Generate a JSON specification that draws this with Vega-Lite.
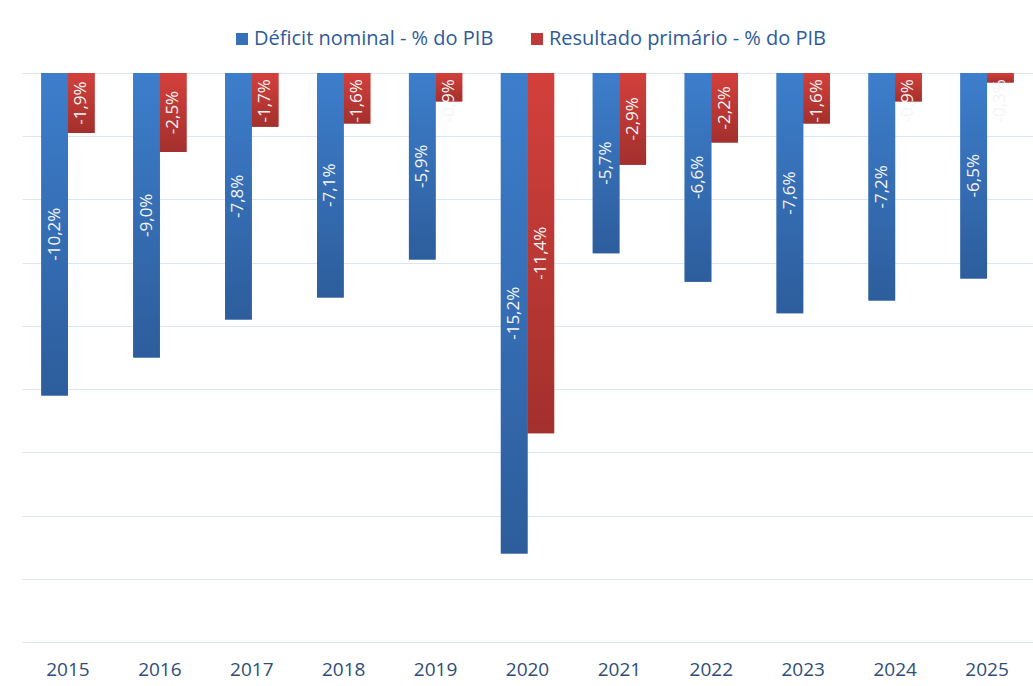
{
  "$schema": "https://vega.github.io/schema/vega-lite/v6.json",
  "width": 1011,
  "height": 569,
  "autosize": {"type": "none"},
  "padding": {"left": 22, "top": 73, "right": 0, "bottom": 44},
  "background": "white",
  "config": {"view": {"stroke": null}, "font": "Open Sans"},
  "data": {
    "values": [
      {"ano": "2015", "serie": "Déficit nominal - % do PIB", "valor": -10.2},
      {"ano": "2015", "serie": "Resultado primário - % do PIB", "valor": -1.9},
      {"ano": "2016", "serie": "Déficit nominal - % do PIB", "valor": -9.0},
      {"ano": "2016", "serie": "Resultado primário - % do PIB", "valor": -2.5},
      {"ano": "2017", "serie": "Déficit nominal - % do PIB", "valor": -7.8},
      {"ano": "2017", "serie": "Resultado primário - % do PIB", "valor": -1.7},
      {"ano": "2018", "serie": "Déficit nominal - % do PIB", "valor": -7.1},
      {"ano": "2018", "serie": "Resultado primário - % do PIB", "valor": -1.6},
      {"ano": "2019", "serie": "Déficit nominal - % do PIB", "valor": -5.9},
      {"ano": "2019", "serie": "Resultado primário - % do PIB", "valor": -0.9},
      {"ano": "2020", "serie": "Déficit nominal - % do PIB", "valor": -15.2},
      {"ano": "2020", "serie": "Resultado primário - % do PIB", "valor": -11.4},
      {"ano": "2021", "serie": "Déficit nominal - % do PIB", "valor": -5.7},
      {"ano": "2021", "serie": "Resultado primário - % do PIB", "valor": -2.9},
      {"ano": "2022", "serie": "Déficit nominal - % do PIB", "valor": -6.6},
      {"ano": "2022", "serie": "Resultado primário - % do PIB", "valor": -2.2},
      {"ano": "2023", "serie": "Déficit nominal - % do PIB", "valor": -7.6},
      {"ano": "2023", "serie": "Resultado primário - % do PIB", "valor": -1.6},
      {"ano": "2024", "serie": "Déficit nominal - % do PIB", "valor": -7.2},
      {"ano": "2024", "serie": "Resultado primário - % do PIB", "valor": -0.9},
      {"ano": "2025", "serie": "Déficit nominal - % do PIB", "valor": -6.5},
      {"ano": "2025", "serie": "Resultado primário - % do PIB", "valor": -0.3}
    ]
  },
  "encoding": {
    "x": {
      "field": "ano",
      "type": "ordinal",
      "scale": {"paddingInner": 0.42, "paddingOuter": 0.21},
      "axis": {
        "title": null,
        "labelAngle": 0,
        "labelFontSize": 19,
        "labelColor": "#2F4D7C",
        "domain": false,
        "ticks": false,
        "grid": false,
        "labelPadding": 18
      }
    },
    "xOffset": {
      "field": "serie",
      "type": "nominal",
      "sort": ["Déficit nominal - % do PIB", "Resultado primário - % do PIB"],
      "scale": {"paddingInner": 0, "paddingOuter": 0}
    },
    "y": {
      "field": "valor",
      "type": "quantitative",
      "scale": {"domain": [-18, 0], "nice": false, "zero": true},
      "axis": {
        "title": null,
        "labels": false,
        "ticks": false,
        "domain": false,
        "grid": true,
        "gridColor": "#DCE6F2",
        "gridWidth": 1.2,
        "values": [0, -2, -4, -6, -8, -10, -12, -14, -16, -18]
      }
    }
  },
  "layer": [
    {
      "mark": {"type": "bar"},
      "encoding": {
        "color": {
          "field": "serie",
          "type": "nominal",
          "sort": ["Déficit nominal - % do PIB", "Resultado primário - % do PIB"],
          "scale": {"range": ["#3570B8", "#C0393A"]},
          "legend": {
            "title": null,
            "orient": "none",
            "legendX": 210,
            "legendY": -44,
            "direction": "horizontal",
            "symbolType": "square",
            "symbolSize": 144,
            "symbolStrokeWidth": 0,
            "labelFontSize": 20,
            "labelLimit": 400,
            "labelColor": "#2E5B9A",
            "columnPadding": 33,
            "labelOffset": 2
          }
        }
      }
    },
    {
      "mark": {"type": "bar"},
      "encoding": {
        "fill": {
          "condition": {
            "test": "datum.serie === 'Déficit nominal - % do PIB'",
            "value": {
              "gradient": "linear", "x1": 0, "y1": 0, "x2": 0, "y2": 1,
              "stops": [{"offset": 0, "color": "#3D7ECC"}, {"offset": 1, "color": "#2D5D9C"}]
            }
          },
          "value": {
            "gradient": "linear", "x1": 0, "y1": 0, "x2": 0, "y2": 1,
            "stops": [{"offset": 0, "color": "#D3403C"}, {"offset": 1, "color": "#A3302D"}]
          }
        }
      }
    },
    {
      "transform": [
        {"calculate": "min(datum.valor / 2, -0.88)", "as": "pos"},
        {"calculate": "replace(replace(format(datum.valor, '.1f'), '.', ','), '\u2212', '-') + '%'", "as": "rotulo"}
      ],
      "mark": {
        "type": "text",
        "angle": 270,
        "align": "center",
        "baseline": "middle",
        "fontSize": 17,
        "color": "#F4F4F4"
      },
      "encoding": {
        "y": {"field": "pos", "type": "quantitative"},
        "text": {"field": "rotulo", "type": "nominal"}
      }
    }
  ]
}
